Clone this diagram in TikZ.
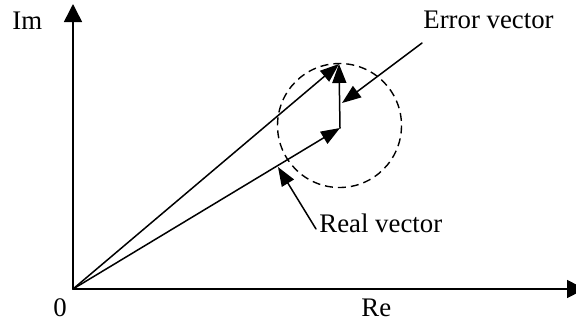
\documentclass[tikz,border=0pt]{standalone}
\usepackage{fontspec}
\setmainfont{Liberation Serif}
\usetikzlibrary{arrows.meta}
\begin{document}
\begin{tikzpicture}[x=0.5pt,y=-0.5pt,
  line/.style={line width=0.75pt, line cap=round, line join=miter},
  axisarrow/.style={line, -{Triangle[length=9pt,width=9pt]}},
  vecarrow/.style={line, -{Triangle[length=9.5pt,width=7pt]}},
  lbl/.style={font=\fontsize{13.4pt}{15pt}\selectfont, inner sep=0pt, anchor=base west},
  circ/.style={line width=0.7pt, dash pattern=on 4pt off 2.5pt}]
\useasboundingbox (0,0) rectangle (576,322);
\coordinate (O) at (73,289);
\coordinate (ytop) at (73,4);
\coordinate (xend) at (585,289);
\coordinate (A) at (339,64);
\coordinate (B) at (340,128);
\coordinate (C) at (339.5,125.5);
\coordinate (etail) at (422,43);
\coordinate (ehead) at (342,103);
\coordinate (rtail) at (316,229);
\coordinate (rhead) at (278,167);
\draw[axisarrow] (O) -- (ytop);
\draw[axisarrow] (O) -- (xend);
\draw[circ] (C) circle[radius=62];
\draw[vecarrow] (O) -- (A);
\draw[vecarrow] (O) -- (B);
\draw[vecarrow] (B) -- (A);
\draw[vecarrow] (etail) -- (ehead);
\draw[vecarrow] (rtail) -- (rhead);
\node[lbl] (im) at (12,29) {Im};
\node[lbl] (zero) at (53,316) {0};
\node[lbl] (re) at (361,316) {Re};
\node[lbl] (err) at (423,28) {Error vector};
\node[lbl] (real) at (319,232) {Real vector};
\end{tikzpicture}
\end{document}
